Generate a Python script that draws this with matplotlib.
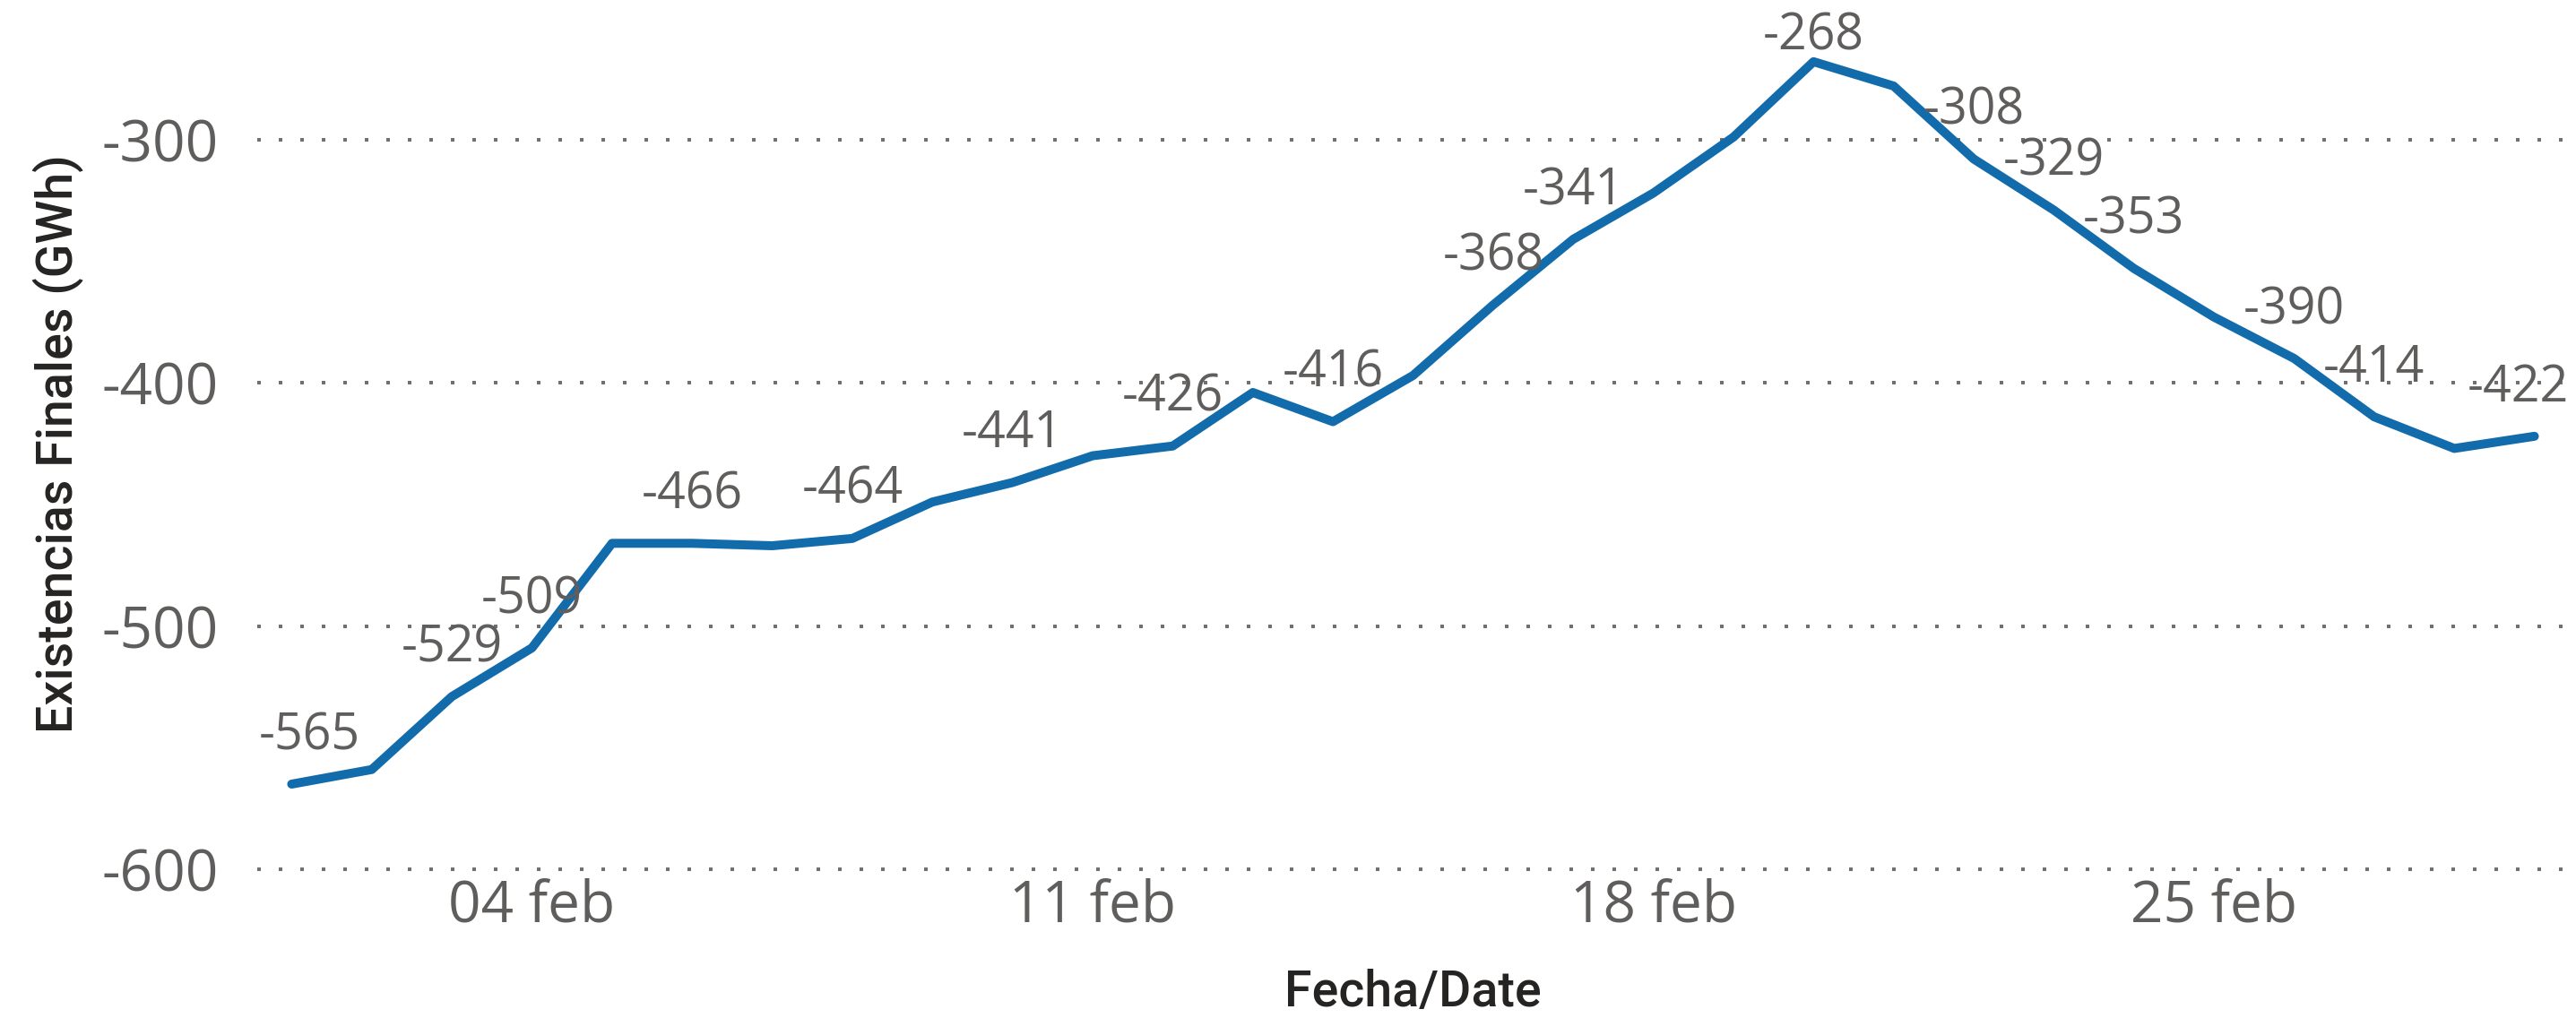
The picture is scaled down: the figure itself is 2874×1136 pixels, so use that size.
import matplotlib
matplotlib.use("Agg")
import matplotlib.pyplot as plt
import matplotlib.dates as mdates
import pandas as pd

# ---- data ----
dates = pd.date_range("2024-02-01", "2024-02-29", freq="D")
values = [-565, -559, -529, -509, -466, -466, -467, -464, -449, -441,
          -430, -426, -404, -416, -397, -368, -341, -322, -299, -268,
          -278, -308, -329, -353, -373, -390, -414, -427, -422]
labeled_days = [1, 3, 4, 6, 8, 10, 12, 14, 16, 17, 20, 22, 23, 24, 26, 27, 29]
x_tick_dates = ["2024-02-04", "2024-02-11", "2024-02-18", "2024-02-25"]
x_tick_labels = ["04 feb", "11 feb", "18 feb", "25 feb"]
y_ticks = [-600, -500, -400, -300]
y_tick_labels = ["-600", "-500", "-400", "-300"]
y_title = "Existencias Finales (GWh)"
x_title = "Fecha/Date"

# ---- style ----
W, H = 2874, 1136
DPI = 100
LINE_COLOR = "#126BAA"
TICK_COLOR = "#605E5C"
TITLE_COLOR = "#252423"
GRID_COLOR = "#707070"
FONT = "Open Sans"

fig = plt.figure(figsize=(W / DPI, H / DPI), dpi=DPI)
ax_left, ax_right, ax_top, ax_bottom = 287, 2866, 20, 970
ax = fig.add_axes([ax_left / W, (H - ax_bottom) / H,
                   (ax_right - ax_left) / W, (ax_bottom - ax_top) / H])

xnum = mdates.date2num(dates)
ax.plot(xnum, values, color=LINE_COLOR, linewidth=7.2,
        solid_capstyle="round", solid_joinstyle="round", zorder=3)

pad_days = 0.43
ax.set_xlim(xnum[0] - pad_days, xnum[-1] + pad_days)
ax.set_ylim(-600, -250)

ax.set_yticks(y_ticks)
ax.set_yticklabels(y_tick_labels, fontfamily=FONT, fontsize=46, color=TICK_COLOR)
ax.set_xticks(mdates.date2num(pd.to_datetime(x_tick_dates)))
ax.set_xticklabels(x_tick_labels, fontfamily=FONT, fontsize=46, color=TICK_COLOR)
ax.tick_params(axis="both", length=0)
ax.tick_params(axis="y", pad=31)
ax.tick_params(axis="x", pad=7)

for s in ax.spines.values():
    s.set_visible(False)

ax.yaxis.grid(True, color=GRID_COLOR, linestyle=(0, (1, 5)), linewidth=2.88)
ax.xaxis.grid(False)
ax.set_axisbelow(True)
for gl in ax.get_ygridlines():
    gl.set_clip_on(False)

# data labels
texts = []
for d in labeled_days:
    i = d - 1
    t = ax.annotate(f"{values[i]}", xy=(xnum[i], values[i]),
                    xytext=(0, 39), textcoords="offset pixels",
                    ha="center", va="baseline", fontfamily=FONT,
                    fontsize=40, color=TICK_COLOR, zorder=4)
    texts.append(t)

# keep data labels inside the plot area
fig.canvas.draw()
r = fig.canvas.get_renderer()
axbb = ax.get_window_extent(r)
for t in texts:
    bb = t.get_window_extent(r)
    dx = dy = 0.0
    if bb.x0 < axbb.x0:
        dx = axbb.x0 - bb.x0 + 2
    if bb.x1 > axbb.x1:
        dx = axbb.x1 - bb.x1
    if bb.y1 > axbb.y1 + 8:
        dy = axbb.y1 + 8 - bb.y1
    ox, oy = t.xyann
    t.xyann = (ox + dx, oy + dy)

# axis titles
fig.text(80 / W, (H - (ax_top + ax_bottom) / 2) / H, y_title, rotation=90,
         rotation_mode="anchor", ha="center", va="baseline",
         fontfamily="Roboto", fontweight="medium", fontsize=40, color=TITLE_COLOR)
fig.text(((ax_left + ax_right) / 2) / W, (H - 1123) / H, x_title,
         ha="center", va="baseline",
         fontfamily="Roboto", fontweight="medium", fontsize=40, color=TITLE_COLOR)

fig.savefig("out.png", dpi=DPI, facecolor="white")
